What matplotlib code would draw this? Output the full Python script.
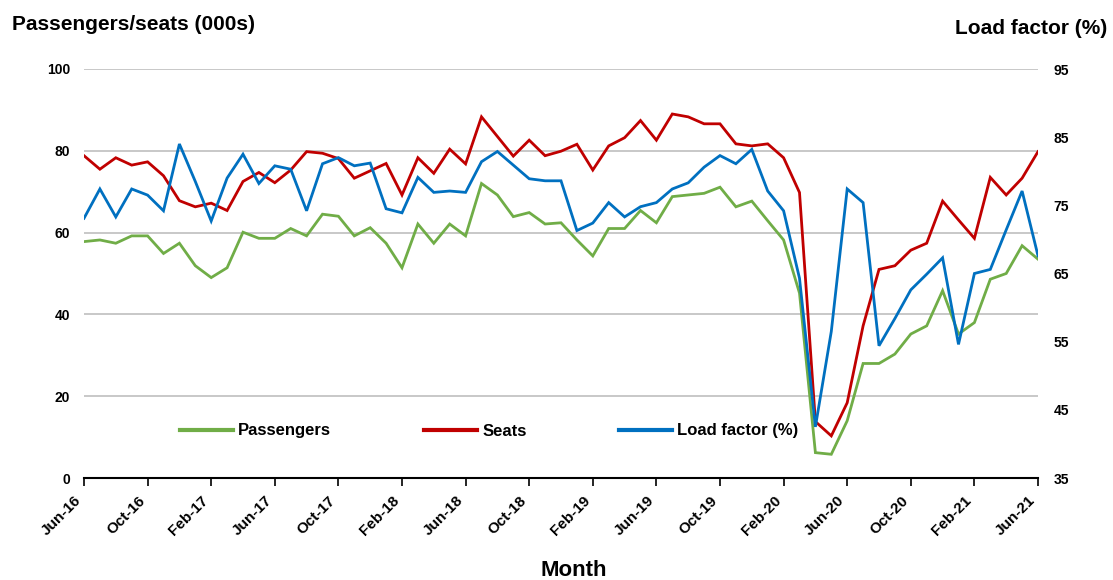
import matplotlib
matplotlib.use("Agg")
import matplotlib.pyplot as plt
import numpy as np

months = ["Jun-16","Jul-16","Aug-16","Sep-16","Oct-16","Nov-16","Dec-16",
          "Jan-17","Feb-17","Mar-17","Apr-17","May-17","Jun-17","Jul-17","Aug-17","Sep-17","Oct-17","Nov-17","Dec-17",
          "Jan-18","Feb-18","Mar-18","Apr-18","May-18","Jun-18","Jul-18","Aug-18","Sep-18","Oct-18","Nov-18","Dec-18",
          "Jan-19","Feb-19","Mar-19","Apr-19","May-19","Jun-19","Jul-19","Aug-19","Sep-19","Oct-19","Nov-19","Dec-19",
          "Jan-20","Feb-20","Mar-20","Apr-20","May-20","Jun-20","Jul-20","Aug-20","Sep-20","Oct-20","Nov-20","Dec-20",
          "Jan-21","Feb-21","Mar-21","Apr-21","May-21","Jun-21"]

passengers = [57.8, 58.2, 57.4, 59.2, 59.2, 54.9, 57.4, 51.9, 49.0, 51.4, 60.1, 58.6, 58.6, 61.0, 59.2, 64.5,
              64.0, 59.2, 61.2, 57.4, 51.4, 62.1, 57.4, 62.1, 59.2, 72.0, 69.2, 63.9, 64.9, 62.1, 62.4,
              58.2, 54.3, 61.0, 61.0, 65.4, 62.4, 68.8, 69.2, 69.6, 71.1, 66.3, 67.7, 62.9, 58.2, 45.2,
              6.2, 5.8, 14.0, 28.0, 28.0, 30.3, 35.2, 37.2, 45.8, 35.2, 38.0, 48.6, 50.0, 56.8, 53.5]

seats = [78.8, 75.5, 78.3, 76.5, 77.3, 73.9, 67.8, 66.3, 67.2, 65.4, 72.5, 74.7, 72.2, 75.3, 79.8, 79.4,
         78.1, 73.3, 75.1, 76.9, 69.2, 78.3, 74.5, 80.4, 76.8, 88.3, 83.5, 78.7, 82.6, 78.8, 79.9,
         81.6, 75.3, 81.2, 83.2, 87.4, 82.6, 89.0, 88.3, 86.6, 86.6, 81.7, 81.2, 81.7, 78.3, 69.8,
         13.8, 10.3, 18.4, 37.2, 51.0, 51.9, 55.7, 57.4, 67.7, 63.1, 58.6, 73.5, 69.2, 73.3, 79.8]

load_factor = [73.1, 77.4, 73.3, 77.4, 76.5, 74.2, 84.0, 78.5, 72.7, 79.0, 82.5, 78.2, 80.8, 80.3, 74.2, 81.1,
               82.0, 80.8, 81.2, 74.5, 73.9, 79.1, 76.9, 77.1, 76.9, 81.4, 82.9, 80.9, 78.9, 78.6, 78.6,
               71.3, 72.4, 75.4, 73.3, 74.8, 75.4, 77.4, 78.3, 80.6, 82.3, 81.1, 83.2, 77.1, 74.2, 64.3,
               42.5, 56.5, 77.4, 75.4, 54.4, 58.4, 62.6, 64.9, 67.3, 54.6, 65.0, 65.6, 71.4, 77.1, 67.6]

left_ticks = [0, 20, 40, 60, 80, 100]
right_ticks = [35, 45, 55, 65, 75, 85, 95]

plt.rcParams['font.family'] = ['Liberation Sans', 'DejaVu Sans']
plt.rcParams['font.weight'] = 'bold'

W, H = 1113, 580
fig = plt.figure(figsize=(W/100, H/100), dpi=100)
L, R, T, B = 84, 1038, 69, 478
ax = fig.add_axes([L/W, 1-B/H, (R-L)/W, (B-T)/H])

x = np.arange(len(months))
c_green = "#70AD47"
c_red = "#C00000"
c_blue = "#0070C0"
lw = 2.0

l1, = ax.plot(x, passengers, color=c_green, lw=lw, label="Passengers", solid_joinstyle='miter')
l2, = ax.plot(x, seats, color=c_red, lw=lw, label="Seats", solid_joinstyle='miter')
ax.set_xlim(0, len(months)-1)
ax.set_ylim(0, 100)
ax.set_yticks(left_ticks)
ax.set_yticklabels([str(v) for v in left_ticks], fontsize=10, fontweight='bold')
for v in left_ticks[1:]:
    ax.axhline(v, color="#BFBFBF", lw=1.2, zorder=0)
ax.tick_params(axis='y', length=0, pad=10)

ax2 = ax.twinx()
l3, = ax2.plot(x, load_factor, color=c_blue, lw=lw, label="Load factor (%)", solid_joinstyle='miter')
ax2.set_ylim(35, 95)
ax2.set_yticks(right_ticks)
ax2.set_yticklabels([str(v) for v in right_ticks], fontsize=10, fontweight='bold')
ax2.tick_params(axis='y', length=0, pad=11)

xt = x[::4]
ax.set_xticks(xt)
ax.set_xticklabels([months[i] for i in xt], rotation=45, ha='right', va='top',
                   fontsize=11, fontweight='bold')
ax.tick_params(axis='x', direction='out', length=6, width=1.2, color='black', pad=5)

for a in (ax, ax2):
    for s in ('top', 'left', 'right', 'bottom'):
        a.spines[s].set_visible(False)
ax.spines['bottom'].set_visible(True)
ax.spines['bottom'].set_linewidth(1.5)
ax.spines['bottom'].set_color('black')
ax.patch.set_visible(False)

leg = ax2.legend(handles=[l1, l2, l3], loc='center left',
                 bbox_to_anchor=((180-L)/(R-L), (B-431)/(B-T)),
                 ncol=3, frameon=False, fontsize=12, handlelength=3.2,
                 handletextpad=0.3, columnspacing=5.55, borderpad=0, borderaxespad=0)
for t in leg.get_texts():
    t.set_fontweight('bold')
for h in leg.get_lines():
    h.set_linewidth(3)

fig.text(12/W, 1-24/H, "Passengers/seats (000s)", fontsize=15, fontweight='bold',
         ha='left', va='center')
fig.text(1107/W, 1-28/H, "Load factor (%)", fontsize=15, fontweight='bold',
         ha='right', va='center')
fig.text(574/W, 1-571/H, "Month", fontsize=16, fontweight='bold', ha='center', va='center')

fig.savefig("out.png", dpi=100)
